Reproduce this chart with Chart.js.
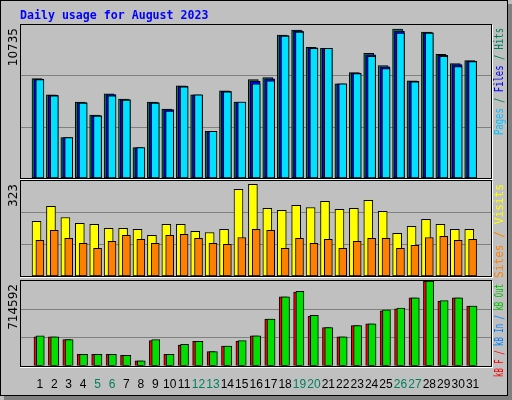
<!DOCTYPE html>
<html><head><meta charset="utf-8">
<script src="https://cdn.jsdelivr.net/npm/chart.js@4"></script>
<style>html,body{margin:0;padding:0;background:#C0C0C0}#w{position:relative;width:512px;height:400px}canvas{position:absolute;left:0;top:0}</style>
</head><body><div id="w"><canvas id="c1" width="512" height="400"></canvas><canvas id="c2" width="512" height="400"></canvas><canvas id="c3" width="512" height="400"></canvas></div>
<script>
const days=[1,2,3,4,5,6,7,8,9,10,11,12,13,14,15,16,17,18,19,20,21,22,23,24,25,26,27,28,29,30,31];
const weekend=[5,6,12,13,19,20,26,27];
const hits=[6968,5830,2844,5332,4408,5901,5546,2133,5332,4835,6470,5830,3270,6115,5332,6897,7039,10025,10380,9172,9100,6612,7394,8745,7892,10451,6826,10238,8674,8034,8247];
const files=[6930,5800,2830,5300,4380,5860,5510,2120,5300,4800,6430,5830,3250,6080,5332,6780,6950,9990,10300,9140,9100,6612,7360,8650,7800,10300,6790,10200,8600,7950,8210];
const pages=[6897,5759,2844,5261,4337,5759,5475,2133,5261,4693,6399,5830,3270,6044,5332,6612,6826,9954,10238,9101,9100,6612,7323,8532,7679,10167,6755,10167,8532,7821,8177];
const visits=[186,237,199,179,176,162,162,159,138,176,176,152,148,159,295,312,230,223,240,233,254,227,230,257,220,145,169,193,176,159,159];
const sites=[121,155,128,111,94,118,138,125,111,138,142,128,111,108,131,159,155,94,128,111,125,94,118,128,128,94,104,131,135,121,125];
const kbIn=[243437,243437,219878,94234,94234,94234,86381,39264,212026,94234,172762,204173,117792,164909,204173,251290,392640,581107,620371,416198,321965,243437,337670,353376,463315,479021,573254,714592,541843,573254,502579];
const kbOut=[251290,243437,219878,94234,94234,94234,86381,39264,219878,94234,180614,204173,117792,164909,212026,251290,392640,581107,628224,424051,321965,243437,337670,353376,471168,486874,573254,714592,549696,573254,502579];
const maxTop=10735, maxMid=323, maxBot=714592;

function pts(vals,off){return vals.map((v,i)=>({x:days[i]+off,y:v}));}
function ds(label,vals,off,color,th){return {label,data:pts(vals,off),backgroundColor:color,borderColor:'#000',borderWidth:1,barThickness:th,borderSkipped:false,grouped:false};}

function rotText(ctx,x,yBottom,parts,font,target){
  ctx.save();ctx.font=font;let w=0;for(const p of parts)w+=ctx.measureText(p[0]).width;
  const k=target/w;
  ctx.translate(x,yBottom);ctx.rotate(-Math.PI/2);ctx.scale(k,1);ctx.textBaseline='middle';ctx.textAlign='left';
  let px=0;for(const [t,c] of parts){ctx.fillStyle=c;ctx.fillText(t,px,0);px+=ctx.measureText(t).width;}
  ctx.restore();
}
const mono='12px "DejaVu Sans Mono"';
const frame={id:'frame',beforeDraw(ch){const c=ch.ctx;c.save();c.fillStyle='#C0C0C0';c.fillRect(0,0,512,400);
  c.fillStyle='#808080';c.fillRect(508,4,4,396);c.fillRect(4,396,508,4);
  c.strokeStyle='#000';c.lineWidth=1;c.strokeRect(0.5,0.5,507,395);
  c.font='bold 11.6px "DejaVu Sans Mono"';c.fillStyle='#0000FF';c.textBaseline='alphabetic';c.fillText('Daily usage for August 2023',20,19);c.restore();}};
function panel(leftLabel,rightParts,textLen){return {id:'panel',afterDraw(ch){const c=ch.ctx,a=ch.chartArea;c.save();
  c.strokeStyle='#000';c.lineWidth=1;c.strokeRect(Math.round(a.left)+0.5,Math.round(a.top)-0.5,Math.round(a.right-a.left),Math.round(a.bottom-a.top)+1);
  c.strokeStyle='#fff';c.beginPath();c.moveTo(a.left,Math.round(a.bottom)+1.5);c.lineTo(a.right+2,Math.round(a.bottom)+1.5);c.moveTo(Math.round(a.right)+1.5,a.top);c.lineTo(Math.round(a.right)+1.5,a.bottom+2);c.stroke();
  c.translate(14,a.top+3);c.rotate(-Math.PI/2);c.font='12px "DejaVu Sans"';c.fillStyle='#000';c.textAlign='right';c.textBaseline='middle';c.fillText(leftLabel,0,0);c.restore();
  rotText(c,500,a.top+3+textLen,rightParts,mono,textLen);}};}

function opts(max,padBottom,showX,padTop){return {responsive:false,animation:false,events:[],
  layout:{padding:{left:20,right:21,top:padTop,bottom:padBottom}},
  plugins:{legend:{display:false},tooltip:{enabled:false}},
  scales:{x:{type:'linear',min:0.15,max:31.75,display:showX,grid:{display:false},border:{display:false},
      afterBuildTicks(s){s.ticks=days.map(v=>({value:v}));},
      ticks:{autoSkip:false,maxRotation:0,padding:4,font:{family:'Liberation Sans',size:12},
        color:c=>weekend.includes(c.tick&&c.tick.value)?'#00805c':'#000',callback:v=>String(v)}},
    y:{min:0,max:max,display:true,border:{display:false},grid:{color:'#808080',drawTicks:false,lineWidth:1},
      ticks:{display:false},afterBuildTicks(s){s.ticks=[{value:max/3},{value:2*max/3}];},afterFit(s){s.width=0;}}}};}

new Chart(document.getElementById('c1'),{type:'bar',data:{datasets:[
  ds('Pages',pages,0,'#00E0FF',8),ds('Files',files,-0.07,'#0000FF',10),ds('Hits',hits,-0.2,'#00805c',10)]},
  options:opts(maxTop,222,false,25),plugins:[frame,panel('10735',[['Pages','#00C0FF'],[' / ','#00805c'],['Files','#0000FF'],[' / ','#00805c'],['Hits','#00805c']],107)]});
new Chart(document.getElementById('c2'),{type:'bar',data:{datasets:[
  ds('Sites',sites,0,'#FF8000',8),ds('Visits',visits,-0.23,'#FFFF00',9)]},
  options:opts(maxMid,124,false,181),plugins:[panel('323',[['Sites','#FF8000'],[' / ','#FF8000'],['Visits','#FFFF00']],94)]});
new Chart(document.getElementById('c3'),{type:'bar',data:{datasets:[
  ds('kB Out',kbOut,0.03,'#00E000',8),ds('kB F',kbIn,-0.13,'#FF0000',8)]},
  options:opts(maxBot,4,true,281),plugins:[panel('714592',[['kB F','#FF0000'],[' / ','#FF0000'],['kB In','#0080FF'],[' / ','#0080FF'],['kB Out','#00C000']],93)]});
</script></body></html>
